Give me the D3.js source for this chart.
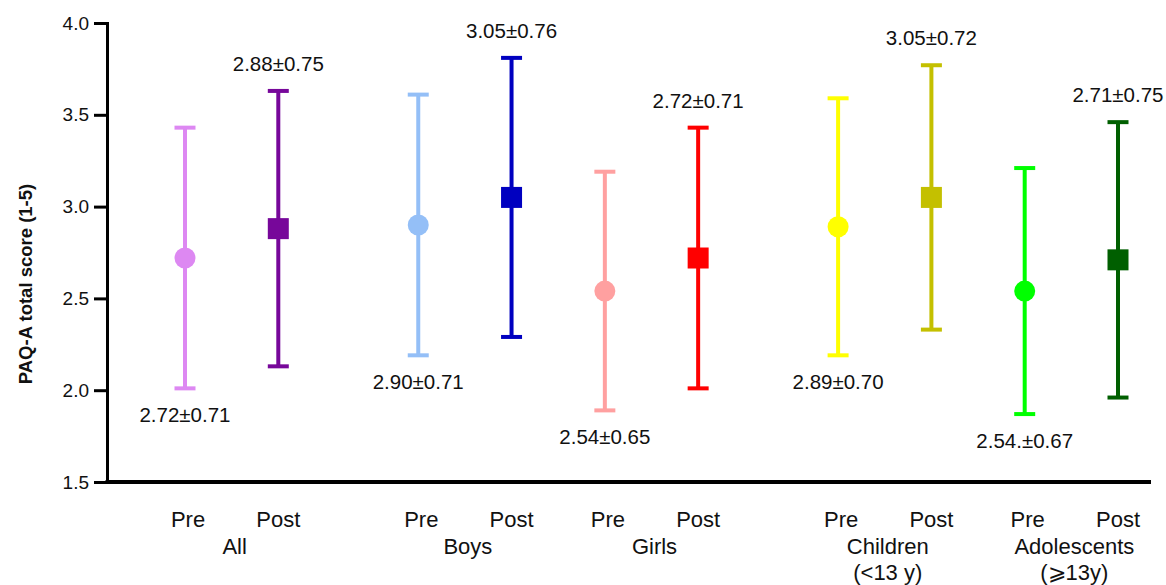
<!DOCTYPE html>
<html>
<head>
<meta charset="utf-8">
<script src="https://cdn.jsdelivr.net/npm/d3@7"></script>
<style>
  body { margin: 0; background: #fff; }
  svg text { font-family: "Liberation Sans", Arial, sans-serif; fill: #111; }
</style>
</head>
<body>
<svg id="chart" width="1166" height="585"></svg>
<script>
// data
const groups = ["All", "Boys", "Girls", "Children", "Adolescents"];
const groupSub = ["", "", "", "(<13 y)", "(\u2a7e13y)"];
const phases = ["Pre", "Post"];
const means = [2.72, 2.88, 2.90, 3.05, 2.54, 2.72, 2.89, 3.05, 2.54, 2.71];
const sds = [0.71, 0.75, 0.71, 0.76, 0.65, 0.71, 0.70, 0.72, 0.67, 0.75];
const valueLabels = ["2.72\u00b10.71", "2.88\u00b10.75", "2.90\u00b10.71", "3.05\u00b10.76",
  "2.54\u00b10.65", "2.72\u00b10.71", "2.89\u00b10.70", "3.05\u00b10.72",
  "2.54.\u00b10.67", "2.71\u00b10.75"];
const colors = ["#dd88f2", "#77079a", "#94bff7", "#0000c0", "#ffa0a0", "#ff0000",
  "#ffff00", "#c4c000", "#00ff00", "#005f00"];
// slot of each point along the x axis (groups separated by gaps)
const slots = [0, 1, 2.5, 3.5, 4.5, 5.5, 7, 8, 9, 10];
const yTicks = [1.5, 2.0, 2.5, 3.0, 3.5, 4.0];

const svg = d3.select("#chart");

const x = d3.scaleLinear().domain([0, 10]).range([185, 1118]);
const y = d3.scaleLinear().domain([1.5, 4.0]).range([482, 23]);

const points = means.map((m, i) => ({
  mean: m, sd: sds[i], label: valueLabels[i], color: colors[i],
  slot: slots[i], phase: phases[i % 2], group: Math.floor(i / 2)
}));

// y axis
const yAxis = d3.axisLeft(y)
  .tickValues(yTicks)
  .tickFormat(d3.format(".1f"))
  .tickSize(13)
  .tickPadding(5);

const gy = svg.append("g")
  .attr("transform", "translate(107,0)")
  .call(yAxis);
gy.select(".domain").attr("stroke", "#000").attr("stroke-width", 3);
gy.selectAll(".tick line").attr("stroke", "#000").attr("stroke-width", 3);
gy.selectAll(".tick text")
  .style("font-size", "19px")
  .style("font-family", "'Liberation Sans', Arial, sans-serif")
  .attr("fill", "#111");

// x axis line
svg.append("line")
  .attr("x1", 105.5).attr("x2", 1151)
  .attr("y1", y(1.5)).attr("y2", y(1.5))
  .attr("stroke", "#000").attr("stroke-width", 4);

svg.append("text")
  .attr("transform", "translate(32,284) rotate(-90)")
  .attr("text-anchor", "middle")
  .style("font-size", "18.5px")
  .style("font-weight", "bold")
  .text("PAQ-A total score (1-5)");

// error bars
const bars = svg.append("g").selectAll("g")
  .data(points)
  .join("g");

bars.append("line")
  .attr("x1", d => x(d.slot)).attr("x2", d => x(d.slot))
  .attr("y1", d => y(d.mean - d.sd)).attr("y2", d => y(d.mean + d.sd))
  .attr("stroke", d => d.color).attr("stroke-width", 4);

[-1, 1].forEach(s => {
  bars.append("line")
    .attr("x1", d => x(d.slot) - 10.5).attr("x2", d => x(d.slot) + 10.5)
    .attr("y1", d => y(d.mean + s * d.sd)).attr("y2", d => y(d.mean + s * d.sd))
    .attr("stroke", d => d.color).attr("stroke-width", 4);
});

// markers: circle for Pre, square for Post
bars.filter(d => d.phase === "Pre").append("circle")
  .attr("cx", d => x(d.slot)).attr("cy", d => y(d.mean))
  .attr("r", 10.5)
  .attr("fill", d => d.color);

bars.filter(d => d.phase === "Post").append("rect")
  .attr("x", d => x(d.slot) - 10.5).attr("y", d => y(d.mean) - 10.5)
  .attr("width", 21).attr("height", 21)
  .attr("fill", d => d.color);

// value labels: below Pre bars, above Post bars
bars.append("text")
  .attr("x", d => x(d.slot))
  .attr("y", d => d.phase === "Pre" ? y(d.mean - d.sd) + 34 : y(d.mean + d.sd) - 20)
  .attr("text-anchor", "middle")
  .style("font-size", "20.5px")
  .text(d => d.label);

// category labels
svg.append("g").selectAll("text")
  .data(points)
  .join("text")
  .attr("x", d => x(d.slot) + (d.phase === "Pre" ? 3 : 0))
  .attr("y", 527)
  .attr("text-anchor", "middle")
  .style("font-size", "22px")
  .text(d => d.phase);

groups.forEach((g, i) => {
  const cx = (x(slots[2 * i]) + x(slots[2 * i + 1])) / 2 + 3;
  svg.append("text")
    .attr("x", cx).attr("y", 554)
    .attr("text-anchor", "middle")
    .style("font-size", "22px")
    .text(g);
  if (groupSub[i]) {
    svg.append("text")
      .attr("x", cx).attr("y", 580)
      .attr("text-anchor", "middle")
      .style("font-size", "22px")
      .text(groupSub[i]);
  }
});
</script>
</body>
</html>
